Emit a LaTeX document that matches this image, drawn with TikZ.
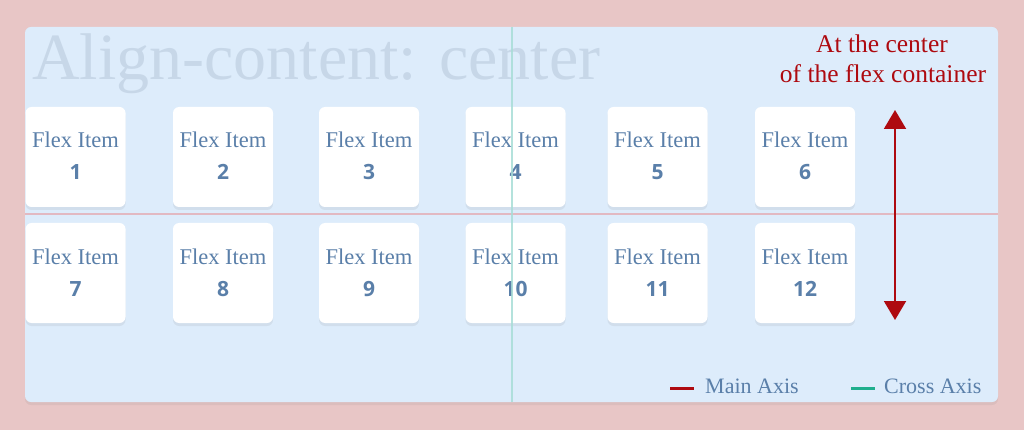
\documentclass[tikz,border=0pt]{standalone}
\usepackage{fontspec}
\setmainfont{Liberation Serif}
\newfontfamily\numfont{Open Sans}
\usetikzlibrary{arrows.meta,shadows,calc}
\definecolor{bgpink}{HTML}{E8C6C6}
\definecolor{panelblue}{HTML}{DDECFB}
\definecolor{titlegray}{HTML}{C7D7E8}
\definecolor{itemtext}{HTML}{5A7FA9}
\definecolor{darkred}{HTML}{AE0A10}
\definecolor{mainline}{HTML}{E2B9C2}
\definecolor{crossline}{HTML}{A8DDD7}
\definecolor{crossteal}{HTML}{1FAE8D}

\begin{document}
\begin{tikzpicture}[x=1pt,y=-1pt,
  flexitem/.style={fill=white,rounded corners=6pt,minimum size=100pt,inner sep=0pt,
    drop shadow={shadow xshift=0pt,shadow yshift=-3pt,opacity=0.12}},
  itemlabel/.style={text=itemtext,font=\fontsize{22.5}{26}\selectfont,anchor=base,inner sep=0pt},
  itemnum/.style={text=itemtext,font=\numfont\bfseries\fontsize{21}{24}\selectfont,anchor=base,inner sep=0pt},
  redlabel/.style={text=darkred,font=\fontsize{25.5}{30}\selectfont,anchor=base,inner sep=0pt},
  legendlabel/.style={text=itemtext,font=\fontsize{22}{26}\selectfont,anchor=base west,inner sep=0pt}]
  \fill[bgpink] (0,0) rectangle (1024,430);
  \useasboundingbox (0,0) rectangle (1024,430);
  \fill[panelblue,rounded corners=6pt,drop shadow={shadow xshift=0pt,shadow yshift=-3pt,opacity=0.12}]
    (25,27) rectangle (998,402);
  \node[anchor=base west,text=titlegray,font=\fontsize{66}{70}\selectfont,inner sep=0pt]
    (title) at (32,80) {Align-content: center};
  \foreach \c/\x in {1/75.5,2/223,3/369,4/515.5,5/657.5,6/805}
    \foreach \r/\y in {0/157,1/273} {
      \pgfmathtruncatemacro\k{\c+6*\r}
      \node[flexitem] (item\k) at (\x,\y) {};
      \node[itemlabel] at ($(item\k.center)+(0,-9)$) {Flex Item};
      \node[itemnum] at ($(item\k.center)+(0,23)$) {\k};
    }
  \draw[mainline,line width=2pt] (25,214) -- (998,214);
  \draw[crossline,line width=2pt,opacity=0.85] (512,27) -- (512,402);
  \node[redlabel] (center1) at (882,53) {At the center};
  \node[redlabel] (center2) at (883,83) {of the flex container};
  \coordinate (atop) at (895,110);
  \coordinate (abot) at (895,320);
  \draw[darkred,line width=2pt,{Triangle[width=22pt,length=19pt]}-{Triangle[width=22pt,length=19pt]}]
    (atop) -- (abot);
  \draw[darkred,line width=3pt] (670,388) -- (694,388);
  \node[legendlabel] (mainaxis) at (705,393) {Main Axis};
  \draw[crossteal,line width=3pt] (851,388) -- (875,388);
  \node[legendlabel] (crossaxis) at (884,393) {Cross Axis};
\end{tikzpicture}
\end{document}
